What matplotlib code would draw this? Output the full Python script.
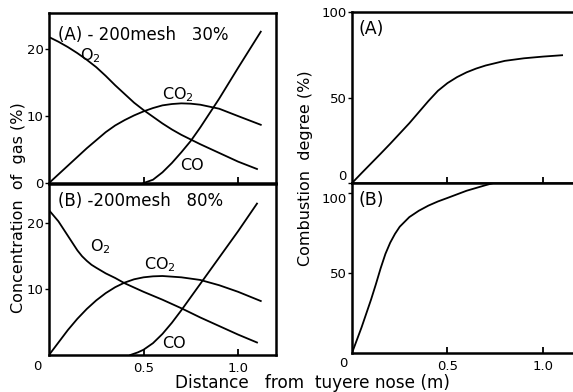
import matplotlib
matplotlib.use('Agg')
import matplotlib.pyplot as plt
import numpy as np

# gas composition, panel (A) -200mesh 30%
a_o2_x = [0, 0.05, 0.1, 0.15, 0.2, 0.25, 0.3, 0.35, 0.4, 0.45, 0.5, 0.55, 0.6, 0.65, 0.7, 0.8, 0.9, 1.0, 1.1]
a_o2_y = [21.8, 21.1, 20.3, 19.4, 18.4, 17.3, 16.0, 14.6, 13.3, 12.0, 10.9, 9.9, 8.9, 8.0, 7.2, 5.8, 4.5, 3.2, 2.1]
a_co2_x = [0, 0.1, 0.2, 0.3, 0.35, 0.4, 0.45, 0.5, 0.55, 0.6, 0.65, 0.7, 0.75, 0.8, 0.9, 1.0, 1.12]
a_co2_y = [0, 2.6, 5.2, 7.6, 8.6, 9.4, 10.1, 10.7, 11.2, 11.6, 11.8, 11.9, 11.85, 11.7, 11.1, 10.0, 8.7]
a_co_x = [0.5, 0.55, 0.6, 0.65, 0.7, 0.75, 0.8, 0.9, 1.0, 1.12]
a_co_y = [0, 0.5, 1.6, 3.0, 4.6, 6.3, 8.3, 12.6, 17.2, 22.6]

# gas composition, panel (B) -200mesh 80%
b_o2_x = [0, 0.05, 0.1, 0.15, 0.175, 0.2, 0.225, 0.25, 0.3, 0.35, 0.4, 0.5, 0.6, 0.7, 0.8, 0.9, 1.0, 1.1]
b_o2_y = [22.0, 20.3, 18.1, 15.9, 15.0, 14.3, 13.7, 13.25, 12.4, 11.7, 10.9, 9.6, 8.4, 7.1, 5.7, 4.4, 3.1, 1.9]
b_co2_x = [0, 0.05, 0.1, 0.15, 0.2, 0.25, 0.3, 0.35, 0.4, 0.45, 0.5, 0.55, 0.6, 0.7, 0.8, 0.9, 1.0, 1.12]
b_co2_y = [0, 1.9, 3.8, 5.5, 7.0, 8.3, 9.4, 10.3, 11.0, 11.5, 11.8, 11.95, 12.0, 11.8, 11.4, 10.6, 9.6, 8.2]
b_co_x = [0.43, 0.47, 0.5, 0.55, 0.6, 0.65, 0.7, 0.8, 0.9, 1.0, 1.1]
b_co_y = [0, 0.4, 0.8, 1.8, 3.2, 4.9, 6.8, 10.8, 14.8, 18.8, 23.0]

# combustion degree
ca_x = [0, 0.05, 0.1, 0.15, 0.2, 0.25, 0.3, 0.35, 0.4, 0.45, 0.5, 0.55, 0.6, 0.65, 0.7, 0.8, 0.9, 1.0, 1.1]
ca_y = [0, 5.8, 11.5, 17.2, 23, 29, 35, 41.5, 48, 54, 58.5, 62, 64.8, 67, 68.8, 71.5, 73, 74, 74.8]
cb_x = [0, 0.05, 0.1, 0.125, 0.15, 0.175, 0.2, 0.225, 0.25, 0.3, 0.35, 0.4, 0.45, 0.5, 0.6, 0.7, 0.74]
cb_y = [0, 16, 33.5, 43, 53, 62, 69, 74.5, 79, 85, 89, 92.2, 94.8, 97, 101.5, 105, 106.3]

plt.rcParams['font.family'] = 'DejaVu Sans'
fig = plt.figure(figsize=(5.73, 3.92), dpi=100)

axLA = fig.add_axes([0.0855, 0.533, 0.396, 0.434])
axLB = fig.add_axes([0.0855, 0.0944, 0.396, 0.4366])
axRA = fig.add_axes([0.6143, 0.533, 0.39, 0.436])
axRB = fig.add_axes([0.6143, 0.0995, 0.39, 0.4335])

lw = 1.3
for ax in [axLA, axLB, axRA, axRB]:
    for s in ax.spines.values():
        s.set_linewidth(1.8)
    ax.tick_params(axis='x', direction='in', length=4, width=1.3, labelsize=9.5, pad=5)
    ax.tick_params(axis='y', direction='out', length=3, width=1, labelsize=9.5, pad=1)

axLA.plot(a_o2_x, a_o2_y, 'k-', lw=lw)
axLA.plot(a_co2_x, a_co2_y, 'k-', lw=lw)
axLA.plot(a_co_x, a_co_y, 'k-', lw=lw)
axLA.set_xlim(0, 1.2)
axLA.set_ylim(0, 25.4)
axLA.set_xticks([0.5, 1.0])
axLA.set_xticklabels([])
axLA.set_yticks([0, 10, 20])
axLA.text(0.22, 19, 'O$_2$', fontsize=11.5, ha='center', va='center')
axLA.text(0.68, 13.2, 'CO$_2$', fontsize=11.5, ha='center', va='center')
axLA.text(0.755, 2.6, 'CO', fontsize=11.5, ha='center', va='center')
axLA.text(0.04, 0.87, '(A) - 200mesh   30%', fontsize=12, transform=axLA.transAxes, va='center')

axLB.plot(b_o2_x, b_o2_y, 'k-', lw=lw)
axLB.plot(b_co2_x, b_co2_y, 'k-', lw=lw)
axLB.plot(b_co_x, b_co_y, 'k-', lw=lw)
axLB.set_xlim(0, 1.2)
axLB.set_ylim(0, 26)
axLB.set_xticks([0.5, 1.0])
axLB.set_xticklabels(['0.5', '1.0'])
axLB.set_yticks([10, 20])
axLB.text(-0.05, -0.07, '0', fontsize=9.5, transform=axLB.transAxes, ha='center', va='center')
axLB.text(0.27, 16.5, 'O$_2$', fontsize=11.5, ha='center', va='center')
axLB.text(0.587, 13.8, 'CO$_2$', fontsize=11.5, ha='center', va='center')
axLB.text(0.66, 1.8, 'CO', fontsize=11.5, ha='center', va='center')
axLB.text(0.04, 0.9, '(B) -200mesh   80%', fontsize=12, transform=axLB.transAxes, va='center')

axRA.plot(ca_x, ca_y, 'k-', lw=lw)
axRA.set_xlim(0, 1.17)
axRA.set_ylim(0, 100)
axRA.set_xticks([0.5, 1.0])
axRA.set_xticklabels([])
axRA.set_yticks([0, 50, 100])
axRA.get_yticklabels()[0].set_va('bottom')
axRA.text(0.03, 0.9, '(A)', fontsize=12.5, transform=axRA.transAxes, va='center')

axRB.plot(cb_x, cb_y, 'k-', lw=lw)
axRB.set_xlim(0, 1.17)
axRB.set_ylim(0, 106.3)
axRB.set_xticks([0.5, 1.0])
axRB.set_xticklabels(['0.5', '1.0'])
axRB.set_yticks([50, 100])
axRB.get_yticklabels()[1].set_va('top')
axRB.text(-0.04, -0.06, '0', fontsize=9.5, transform=axRB.transAxes, ha='center', va='center')
axRB.text(0.03, 0.9, '(B)', fontsize=12.5, transform=axRB.transAxes, va='center')

fig.text(0.032, 0.47, 'Concentration  of  gas (%)', rotation=90, fontsize=11.5, ha='center', va='center')
fig.text(0.533, 0.57, 'Combustion  degree (%)', rotation=90, fontsize=11.5, ha='center', va='center')
fig.text(0.545, 0.023, 'Distance   from  tuyere nose (m)', fontsize=12.2, ha='center', va='center')

plt.savefig('out.png', dpi=100)
